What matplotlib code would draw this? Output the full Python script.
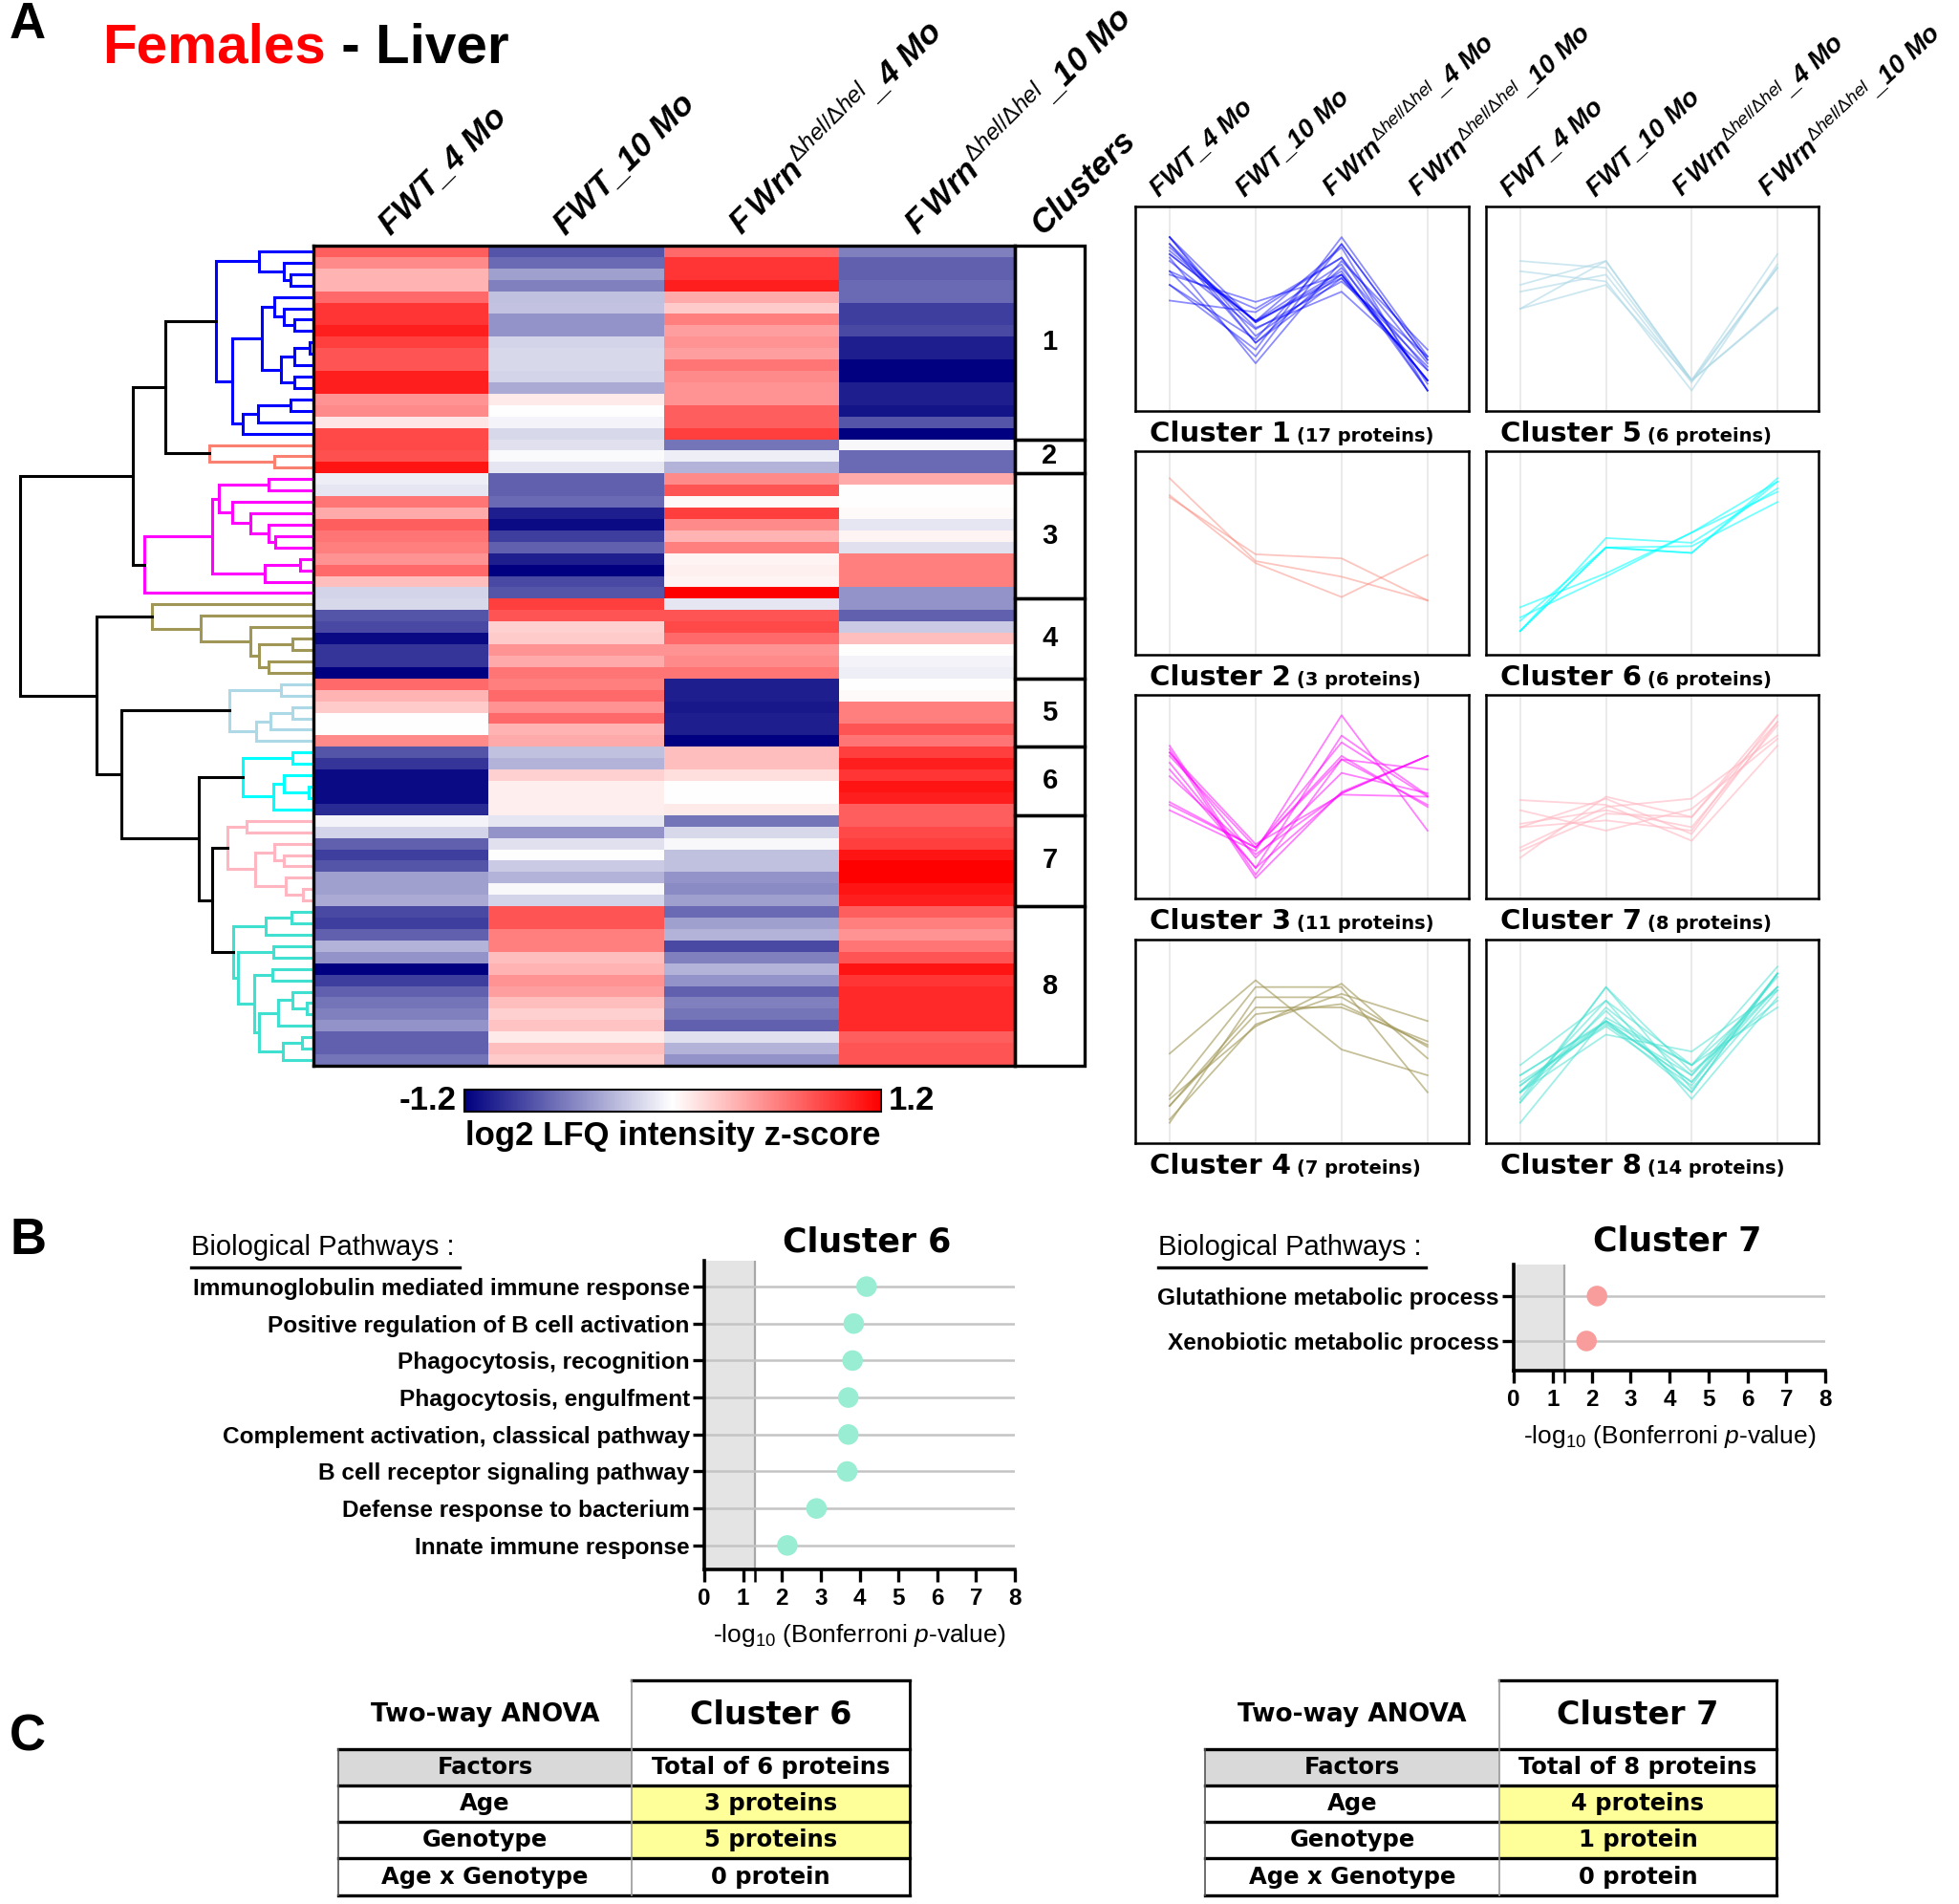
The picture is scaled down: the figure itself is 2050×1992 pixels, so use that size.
import numpy as np
import matplotlib
matplotlib.use("Agg")
import matplotlib.pyplot as plt
from matplotlib.colors import LinearSegmentedColormap, Normalize
from matplotlib.patches import Rectangle
import matplotlib.cm as cm

plt.rcParams['font.family'] = ['Liberation Sans', 'DejaVu Sans']
plt.rcParams['mathtext.fontset'] = 'custom'
plt.rcParams['mathtext.rm'] = 'Liberation Sans'
plt.rcParams['mathtext.it'] = 'Liberation Sans:italic:bold'
plt.rcParams['mathtext.bf'] = 'Liberation Sans:bold'
plt.rcParams['mathtext.sf'] = 'Liberation Sans:italic'

# ---------------- DATA ----------------
conditions = ["FWT_4 Mo", "FWT_10 Mo",
              r"F$\,Wrn^{\Delta \mathsf{hel}/\Delta \mathsf{hel}}$_4 Mo",
              r"F$\,Wrn^{\Delta \mathsf{hel}/\Delta \mathsf{hel}}$_10 Mo"]
cluster_sizes = [17, 3, 11, 7, 6, 6, 8, 14]
cluster_colors = ['#0000FF', '#FA8072', '#FF00FF', '#A09655',
                  '#ADD8E6', '#00FFFF', '#FFB6C1', '#40E0D0']
zmin, zmax = -1.2, 1.2

c1 = [[0.75, -0.80, 0.70, -0.60], [0.55, -0.70, 0.95, -0.75], [0.35, -0.45, 0.95, -0.75],
      [0.35, -0.60, 1.05, -0.70], [0.70, -0.30, 0.40, -0.70], [0.95, -0.28, 0.25, -0.90],
      [0.95, -0.50, 0.60, -0.90], [1.05, -0.50, 0.45, -0.85], [0.90, -0.20, 0.50, -1.05],
      [0.80, -0.18, 0.45, -1.05], [0.80, -0.18, 0.65, -1.20], [1.05, -0.20, 0.55, -1.20],
      [1.05, -0.40, 0.50, -1.05], [0.50, 0.10, 0.50, -1.05], [0.55, 0.00, 0.75, -1.10],
      [0.12, -0.05, 0.75, -0.80], [0.85, -0.18, 0.90, -1.20]]
c2 = [[0.85, -0.15, -0.65, -0.03], [0.82, -0.02, -0.08, -0.70], [1.10, -0.12, -0.35, -0.70]]
c3 = [[-0.08, -0.75, 0.55, 0.40], [-0.12, -0.75, 0.80, 0.00], [0.65, -0.70, 0.03, 0.00],
      [0.40, -1.05, 0.90, 0.02], [0.75, -1.15, 0.55, -0.12], [0.65, -0.90, 0.35, 0.05],
      [0.60, -0.75, 0.60, -0.15], [0.50, -1.05, 0.05, 0.60], [0.70, -1.20, 0.07, 0.60],
      [0.30, -0.85, 0.05, 0.60], [-0.20, -0.80, 1.20, -0.50]]
c4 = [[-0.18, 0.90, -0.12, -0.50], [-0.80, 0.80, 0.80, -0.75], [-0.85, 0.22, 0.85, -0.25],
      [-1.15, 0.25, 0.70, 0.30], [-0.95, 0.50, 0.50, 0.00], [-0.95, 0.40, 0.55, -0.05],
      [-1.20, 0.65, 0.65, -0.08]]
c5 = [[0.70, 0.60, -1.05, 0.00], [0.35, 0.70, -1.05, 0.02], [0.25, 0.50, -1.08, 0.60],
      [0.00, 0.70, -1.05, 0.60], [0.00, 0.35, -1.05, 0.80], [0.55, 0.40, -1.20, 0.65]]
c6 = [[-0.80, -0.30, 0.30, 0.90], [-0.95, -0.35, 0.30, 1.05], [-1.15, 0.22, 0.15, 0.95],
      [-1.15, 0.08, 0.00, 1.10], [-1.15, 0.08, 0.00, 1.05], [-1.00, 0.08, 0.10, 0.75]]
c7 = [[-0.05, -0.12, -0.65, 0.75], [-0.20, -0.50, -0.18, 0.85], [-0.75, -0.15, -0.03, 0.90],
      [-0.90, 0.00, -0.30, 1.10], [-0.80, -0.25, -0.30, 1.20], [-0.45, -0.35, -0.50, 1.20],
      [-0.45, -0.03, -0.55, 1.10], [-0.40, -0.20, -0.45, 1.05]]
c8 = [[-0.85, 0.80, -0.70, 0.75], [-0.90, 0.80, -0.45, 0.60], [-0.75, 0.60, -0.35, 0.50],
      [-0.35, 0.60, -0.85, 0.65], [-0.50, 0.30, -0.60, 0.80], [-1.20, 0.35, -0.35, 1.10],
      [-0.90, 0.50, -0.50, 0.95], [-0.75, 0.45, -0.75, 1.00], [-0.65, 0.30, -0.60, 1.00],
      [-0.60, 0.22, -0.65, 1.00], [-0.50, 0.28, -0.75, 1.00], [-0.75, 0.10, -0.15, 0.75],
      [-0.75, 0.30, -0.35, 0.80], [-0.65, 0.25, -0.50, 0.80]]

# dendrogram: [left, right, linkage distance]; leaves are row indices
tree_c1 = [[0, [1, [2, 3, 0.24], 0.31], 0.57],
           [[[4, [5, [6, 7, 0.20], 0.31], 0.41], [[[8, 9, 0.04], 10, 0.20], [11, 12, 0.20], 0.34], 0.54],
            [[[13, 14, 0.24], 15, 0.58], 16, 0.74], 0.85], 1.02]
tree_c2 = [17, [18, 19, 0.41], 1.09]
tree_c3 = [[[[20, 21, 0.47], [22, [23, [24, [25, 26, 0.40], 0.47], 0.66], 0.85], 0.99],
            [[27, 28, 0.14], 29, 0.51], 1.06], 30, 1.77]
tree_c4 = [31, [32, [33, [[34, 35, 0.22], [36, 37, 0.47], 0.57], 0.66], 1.18], 1.69]
tree_c5 = [[38, 39, 0.34], [[[40, 41, 0.22], 42, 0.45], 43, 0.60], 0.88]
tree_c6 = [[44, 45, 0.22], [[46, [47, 48, 0.05], 0.31], 49, 0.42], 0.74]
tree_c7 = [[50, 51, 0.70], [[52, [53, 54, 0.31], 0.41], [55, [56, 57, 0.11], 0.29], 0.61], 0.90]
tree_c8 = [[[58, 59, 0.23], 60, 0.50],
           [[61, 62, 0.42], [[63, 64, 0.43], [[[65, [66, 67, 0.07], 0.22], 68, 0.37],
                                              [[69, 70, 0.12], 71, 0.32], 0.57], 0.62], 0.79], 0.84]
tree = [[[tree_c1, tree_c2, 1.55], tree_c3, 1.89],
        [tree_c4, [tree_c5, [tree_c6, [tree_c7, tree_c8, 1.06], 1.20], 2.01], 2.27], 3.07]

pathways6 = ["Immunoglobulin mediated immune response", "Positive regulation of B cell activation",
             "Phagocytosis, recognition", "Phagocytosis, engulfment",
             "Complement activation, classical pathway", "B cell receptor signaling pathway",
             "Defense response to bacterium", "Innate immune response"]
values6 = [4.18, 3.85, 3.82, 3.71, 3.71, 3.68, 2.89, 2.14]
pathways7 = ["Glutathione metabolic process", "Xenobiotic metabolic process"]
values7 = [2.14, 1.87]
threshold = 1.3

anova_factors = ["Age", "Genotype", "Age x Genotype"]
anova_c6 = [3, 5, 0]
anova_c7 = [4, 1, 0]
total_c6 = 6
total_c7 = 8

# ---------------- FIGURE ----------------
Z = np.array(c1 + c2 + c3 + c4 + c5 + c6 + c7 + c8)
nrows = Z.shape[0]
starts = np.concatenate([[0], np.cumsum(cluster_sizes)[:-1]])
leaf_cluster = np.repeat(np.arange(len(cluster_sizes)), cluster_sizes)

W, H = 2050, 1992
fig = plt.figure(figsize=(W / 100, H / 100), dpi=100)


def add_ax(x0, y0, x1, y1):
    return fig.add_axes([x0 / W, 1 - y1 / H, (x1 - x0) / W, (y1 - y0) / H])


ov = add_ax(0, 0, W, H)
ov.set_xlim(0, W)
ov.set_ylim(H, 0)
ov.axis('off')
ov.patch.set_visible(False)
renderer = fig.canvas.get_renderer()

BOLD = dict(fontweight='bold')
DJ = ['DejaVu Sans']

# Panel letters and title
for lab, (lx, ly) in zip("ABC", [(29, 26), (29, 1298), (29, 1817)]):
    ov.text(lx, ly, lab, ha='center', va='center', fontsize=38, **BOLD)
t = ov.text(107, 65, "Females", color='#FF0000', fontsize=42, va='baseline', **BOLD)
bb = t.get_window_extent(renderer=renderer)
ov.text(bb.x1, 65, " - Liver", color='black', fontsize=42, va='baseline', **BOLD)

cmap = LinearSegmentedColormap.from_list('bwr_navy', ['#000080', '#FFFFFF', '#FF0000'])
norm = Normalize(zmin, zmax)

# Dendrogram
axd = add_ax(8, 257, 328, 1115)
axd.set_xlim(3.2, 0)
axd.set_ylim(nrows - 0.5, -0.5)
axd.axis('off')


def draw_node(node):
    if isinstance(node, int):
        return float(node), 0.0, int(leaf_cluster[node])
    left, right, h = node
    yl, hl, cl = draw_node(left)
    yr, hr, cr = draw_node(right)
    same = (cl is not None) and cl == cr
    col = cluster_colors[cl] if same else 'black'
    axd.plot([hl, h, h, hr], [yl, yl, yr, yr], color=col, lw=2.2, clip_on=False,
             solid_joinstyle='miter')
    return (yl + yr) / 2, h, (cl if same else None)


draw_node(tree)

# Heatmap
axh = add_ax(328, 257, 1062, 1115)
axh.imshow(Z, cmap=cmap, norm=norm, aspect='auto', interpolation='nearest')
axh.set_xticks([])
axh.set_yticks([])
for s in axh.spines.values():
    s.set_linewidth(2.4)
for j, lab in enumerate(conditions):
    axh.text(j - 0.06, 1.012, lab, transform=axh.get_xaxis_transform(), rotation=45,
             rotation_mode='anchor', ha='left', va='baseline', fontsize=25,
             fontstyle='italic', clip_on=False, **BOLD)

# Cluster column
axc = add_ax(1062, 257, 1135, 1115)
axc.set_xlim(0, 1)
axc.set_ylim(nrows - 0.5, -0.5)
axc.axis('off')
for k, (st, n) in enumerate(zip(starts, cluster_sizes)):
    axc.add_patch(Rectangle((0, st - 0.5), 1, n, fill=False, lw=2.4, ec='black', clip_on=False))
    axc.text(0.5, st - 0.5 + n / 2, str(k + 1), ha='center', va='center', fontsize=21, **BOLD)
axc.text(0.40, 1.012, "Clusters", transform=axc.transAxes, rotation=45, rotation_mode='anchor',
         ha='left', va='baseline', fontsize=25, fontstyle='italic', clip_on=False, **BOLD)

# Colorbar
cax = add_ax(486, 1140, 922, 1163)
cb = fig.colorbar(cm.ScalarMappable(norm=norm, cmap=cmap), cax=cax, orientation='horizontal')
cb.set_ticks([])
cb.outline.set_linewidth(1.5)
ov.text(478, 1151, f"{zmin}", ha='right', va='center', fontsize=25, **BOLD)
ov.text(930, 1151, f"{zmax}", ha='left', va='center', fontsize=25, **BOLD)
ov.text(704, 1188, "log2 LFQ intensity z-score", ha='center', va='center', fontsize=25, **BOLD)

# Cluster profile panels
cols_x = [(1188, 1537), (1555, 1903)]
rows_y = [(216, 430), (472, 685), (727, 940), (983, 1196)]
line_alpha = [0.45, 0.45, 0.5, 0.6, 0.6, 0.55, 0.6, 0.5]
for k, (st, n) in enumerate(zip(starts, cluster_sizes)):
    x0, x1 = cols_x[k // 4]
    y0, y1 = rows_y[k % 4]
    ax = add_ax(x0, y0, x1, y1)
    for r in range(st, st + n):
        ax.plot(range(len(conditions)), Z[r], color=cluster_colors[k], alpha=line_alpha[k], lw=1.3)
    ax.set_xlim(-0.4, 3.48)
    ax.set_ylim(-1.5, 1.5)
    ax.set_xticks(range(len(conditions)))
    ax.set_xticklabels([])
    ax.set_yticks([])
    ax.tick_params(length=0)
    ax.grid(axis='x', color='#E6E6E6', lw=1.2)
    ax.set_axisbelow(True)
    for s in ax.spines.values():
        s.set_linewidth(1.8)
    if k % 4 == 0:
        for j, lab in enumerate(conditions):
            ax.text(j - 0.12, 1.045, lab, transform=ax.get_xaxis_transform(), rotation=43,
                    rotation_mode='anchor', ha='left', va='baseline', fontsize=19.5,
                    fontstyle='italic', clip_on=False, **BOLD)
    tt = ov.text(x0 + 15, y1 + 32, f"Cluster {k + 1}", fontsize=21, family=DJ, va='baseline', **BOLD)
    b2 = tt.get_window_extent(renderer=renderer)
    ov.text(b2.x1 + 6, y1 + 32, f"({n} proteins)", fontsize=14, family=DJ, va='baseline', **BOLD)


# Panel B
def pathway_panel(box, names, vals, color, title, title_xy, bp_x, bp_end, ylims):
    ax = add_ax(*box)
    n = len(names)
    ax.axvspan(0, threshold, color='#E4E4E4', zorder=0, lw=0)
    ax.axvline(threshold, color='#A8A8A8', lw=1.6, zorder=1)
    ax.hlines(range(n), 0, 8, color='#C4C4C4', lw=1.8, zorder=1)
    ax.scatter(vals, range(n), s=240, color=color, zorder=3, edgecolors='none')
    ax.set_xlim(0, 8)
    ax.set_ylim(*ylims)
    for side in ['top', 'right']:
        ax.spines[side].set_visible(False)
    for side in ['left', 'bottom']:
        ax.spines[side].set_linewidth(2.6)
    ax.set_yticks(range(n))
    ax.set_yticklabels(names, fontsize=17.6, fontweight='bold')
    ax.set_xticks(range(9))
    ax.set_xticklabels([str(i) for i in range(9)], fontsize=17.5, fontweight='bold')
    ax.set_xticks([threshold], minor=True)
    ax.tick_params(which='major', length=9, width=2.4, pad=5)
    ax.tick_params(axis='y', pad=2)
    ax.tick_params(which='minor', length=9, width=1.8)
    ax.set_xlabel(r"-log$_{10}$ (Bonferroni $\mathsf{p}$-value)", fontsize=19, labelpad=9)
    ov.text(title_xy[0], title_xy[1], title, ha='center', va='center', fontsize=25, family=DJ, **BOLD)
    ov.text(bp_x, 1305, "Biological Pathways :", ha='left', va='center', fontsize=21)
    ov.plot([bp_x, bp_end], [1326, 1326], color='black', lw=2.4)
    return ax


pathway_panel((737, 1319, 1062, 1642), pathways6, values6, '#98EDD3', "Cluster 6", (907, 1299),
              200, 481, (len(pathways6) - 0.35, -0.7))
pathway_panel((1584, 1323, 1910, 1434), pathways7, values7, '#F89C9C', "Cluster 7", (1755, 1298),
              1212, 1492, (len(pathways7) - 0.34, -0.7))


# Panel C tables
def anova_table(x0, xm, x1, clus, total, counts):
    ys = [1758, 1830, 1868, 1906, 1944, 1983]
    ov.add_patch(Rectangle((x0, ys[1]), xm - x0, ys[2] - ys[1], color='#D9D9D9', lw=0))
    for i, c in enumerate(counts):
        if c > 0:
            ov.add_patch(Rectangle((xm, ys[2 + i]), x1 - xm, ys[3 + i] - ys[2 + i],
                                   color='#FFFF99', lw=0))
    ov.plot([xm, x1], [ys[0], ys[0]], color='black', lw=2.4, solid_capstyle='projecting')
    for y in ys[1:]:
        ov.plot([x0, x1], [y, y], color='black', lw=2.4, solid_capstyle='projecting')
    ov.plot([x0, x0], [ys[1], ys[-1]], color='#555555', lw=1.2)
    ov.plot([xm, xm], [ys[0], ys[-1]], color='#999999', lw=1.2)
    ov.plot([x1, x1], [ys[0], ys[-1]], color='black', lw=2.0)
    cl, cr = (x0 + xm) / 2, (xm + x1) / 2
    ov.text(cl, (ys[0] + ys[1]) / 2, "Two-way ANOVA", ha='center', va='center', fontsize=19,
            family=DJ, **BOLD)
    ov.text(cr, (ys[0] + ys[1]) / 2, f"Cluster {clus}", ha='center', va='center', fontsize=24,
            family=DJ, **BOLD)
    ov.text(cl, (ys[1] + ys[2]) / 2, "Factors", ha='center', va='center', fontsize=17.5,
            family=DJ, **BOLD)
    ov.text(cr, (ys[1] + ys[2]) / 2, f"Total of {total} proteins", ha='center', va='center',
            fontsize=17.5, family=DJ, **BOLD)
    for i, (f, c) in enumerate(zip(anova_factors, counts)):
        yc = (ys[2 + i] + ys[3 + i]) / 2
        ov.text(cl, yc, f, ha='center', va='center', fontsize=17.5, family=DJ, **BOLD)
        ov.text(cr, yc, f"{c} protein" + ("s" if c > 1 else ""), ha='center', va='center',
                fontsize=17.5, family=DJ, **BOLD)


anova_table(354, 661, 952, 6, total_c6, anova_c6)
anova_table(1261, 1569, 1859, 7, total_c7, anova_c7)

fig.savefig("out.png", dpi=100, facecolor='white')
